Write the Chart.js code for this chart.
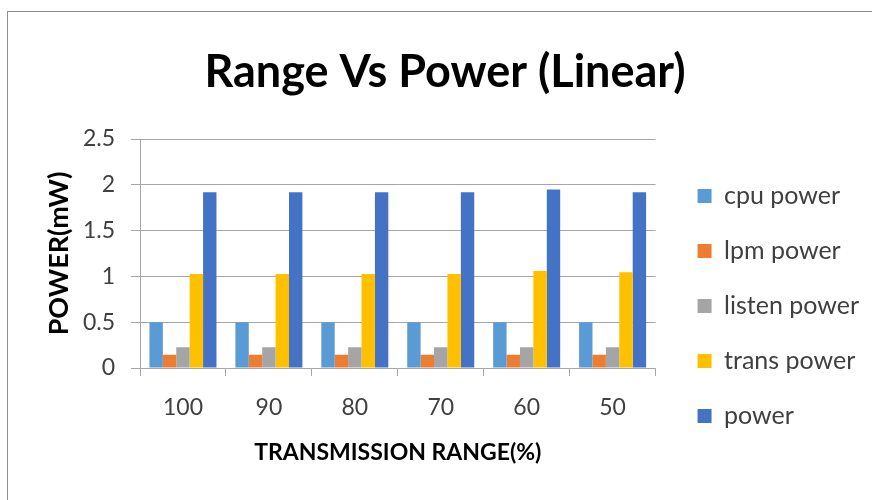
<!DOCTYPE html>
<html>
<head>
<meta charset="utf-8">
<script src="https://cdn.jsdelivr.net/npm/chart.js@4.4.1/dist/chart.umd.min.js"></script>
<style>
    html, body { margin: 0; padding: 0; background: #fff; }
    #wrap { position: relative; width: 872px; height: 500px; overflow: hidden; }
    #frame { position: absolute; left: 7px; top: 11px; width: 900px; height: 600px;
             border-left: 1px solid #8e8e8e; border-top: 1px solid #8e8e8e; }
    #powerChart { position: absolute; left: 0; top: 0; }
</style>
</head>
<body>
<div id="wrap">
    <div id="frame"></div>
    <canvas id="powerChart" width="872" height="500"></canvas>
</div>
<script>
// data
const ranges = ['100', '90', '80', '70', '60', '50'];
const cpuPower = [0.50, 0.50, 0.50, 0.50, 0.50, 0.50];
const lpmPower = [0.146, 0.146, 0.146, 0.146, 0.146, 0.146];
const listenPower = [0.226, 0.226, 0.226, 0.226, 0.226, 0.226];
const transPower = [1.025, 1.025, 1.025, 1.025, 1.058, 1.044];
const totalPower = [1.92, 1.92, 1.92, 1.92, 1.95, 1.92];
const yTicks = [0, 0.5, 1, 1.5, 2, 2.5];

const gridGray = '#a6a6a6';
const textGray = '#404040';

document.addEventListener('DOMContentLoaded', function() {
    const ctx = document.getElementById('powerChart').getContext('2d');
    const powerChart = new Chart(ctx, {
        type: 'bar',
        data: {
            labels: ranges,
            datasets: [
                { label: 'cpu power', data: cpuPower, backgroundColor: '#5b9bd5' },
                { label: 'lpm power', data: lpmPower, backgroundColor: '#ed7d31' },
                { label: 'listen power', data: listenPower, backgroundColor: '#a5a5a5' },
                { label: 'trans power', data: transPower, backgroundColor: '#ffc000' },
                { label: 'power', data: totalPower, backgroundColor: '#4472c4' }
            ]
        },
        options: {
            responsive: false,
            animation: false,
            layout: {
                padding: { left: 21, right: 3, top: 0, bottom: 0 }
            },
            datasets: {
                bar: {
                    categoryPercentage: 0.78,
                    barPercentage: 1.0,
                    borderWidth: 0
                }
            },
            scales: {
                x: {
                    grid: {
                        drawOnChartArea: false,
                        color: gridGray,
                        tickLength: 8
                    },
                    border: { color: gridGray },
                    ticks: {
                        color: textGray,
                        padding: 18,
                        font: { family: 'Lato', size: 23 }
                    },
                    title: {
                        display: true,
                        text: 'TRANSMISSION RANGE(%)',
                        color: '#000',
                        padding: { top: 0, bottom: 34 },
                        font: { family: 'Lato', size: 23, weight: 'bold' }
                    },
                    afterFit: function(scale) { scale.height = 132; }
                },
                y: {
                    min: 0,
                    max: 2.5,
                    afterBuildTicks: function(scale) {
                        scale.ticks = yTicks.map(v => ({ value: v }));
                    },
                    grid: {
                        color: gridGray,
                        tickLength: 9
                    },
                    border: { color: gridGray },
                    ticks: {
                        color: textGray,
                        padding: 16,
                        font: { family: 'Lato', size: 23 },
                        callback: function(value) { return String(value); }
                    },
                    title: {
                        display: true,
                        text: 'POWER(mW)',
                        color: '#000',
                        padding: { top: 22, bottom: 0 },
                        font: { family: 'Lato', size: 27, weight: 'bold' }
                    },
                    afterFit: function(scale) { scale.width = 119; }
                },
                // empty spacer between plot and legend
                gap: {
                    type: 'linear',
                    position: 'right',
                    grid: { display: false },
                    border: { display: false },
                    ticks: { display: false },
                    afterFit: function(scale) { scale.width = 12; }
                }
            },
            plugins: {
                title: {
                    display: true,
                    text: 'Range Vs Power (Linear)',
                    color: '#000',
                    padding: { top: 45, bottom: 40 },
                    font: { family: 'Lato', size: 45, weight: 'bold' }
                },
                legend: {
                    position: 'right',
                    maxWidth: 260,
                    title: {
                        display: true,
                        text: ' ',
                        padding: { top: 50, bottom: 50 },
                        font: { size: 10 }
                    },
                    labels: {
                        boxWidth: 14,
                        boxHeight: 14,
                        padding: 30,
                        color: textGray,
                        font: { family: 'Lato', size: 25 }
                    }
                },
                tooltip: { enabled: false }
            }
        }
    });
});
</script>
</body>
</html>
